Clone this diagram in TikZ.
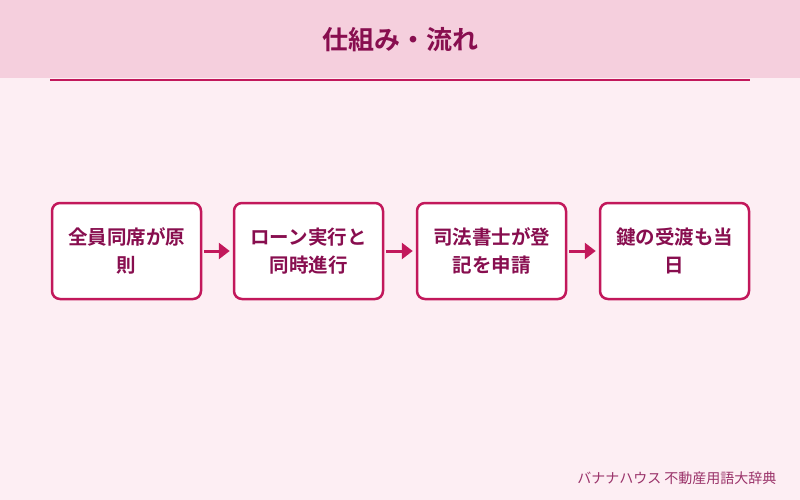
\documentclass[tikz,border=0pt]{standalone}
\usepackage{fontspec}
\setmainfont{Noto Sans CJK JP}[BoldFont={Noto Sans CJK JP Bold}]
\usetikzlibrary{arrows.meta}
\definecolor{bgc}{HTML}{FDEEF3}
\definecolor{hdr}{HTML}{F5CFDD}
\definecolor{acc}{HTML}{C2185B}
\definecolor{txt}{HTML}{880E4F}
\tikzset{
  stepbox/.style={draw=acc, line width=2.5pt, fill=white, rounded corners=8pt,
    minimum width=149pt, minimum height=96pt, inner sep=0pt,
    align=center, text=txt, font=\fontsize{19.5}{27.5}\selectfont\bfseries},
  flow/.style={draw=acc, line width=3pt, -{Triangle[length=11pt,width=16pt]}, shorten >=1pt}
}
\begin{document}
\begin{tikzpicture}[x=1pt,y=-1pt]
\useasboundingbox (0,0) rectangle (800,500);
\fill[bgc] (0,0) rectangle (800,500);
\fill[hdr] (0,0) rectangle (800,78);
\draw[acc, line width=2pt] (50,80) -- (750,80);
\node[text=txt, font=\fontsize{26}{30}\selectfont\bfseries] (title) at (400,40) {仕組み・流れ};
\node[stepbox] (s1) at (126.5,251) {全員同席が原\\則};
\node[stepbox] (s2) at (308.5,251) {ローン実行と\\同時進行};
\node[stepbox] (s3) at (491.5,251) {司法書士が登\\記を申請};
\node[stepbox] (s4) at (674.5,251) {鍵の受渡も当\\日};
\draw[flow] ([xshift=2pt]s1.east) -- ([xshift=-2pt]s2.west);
\draw[flow] ([xshift=2pt]s2.east) -- ([xshift=-2pt]s3.west);
\draw[flow] ([xshift=2pt]s3.east) -- ([xshift=-2pt]s4.west);
\node[anchor=east, text=txt!85, font=\fontsize{14}{16}\selectfont] (foot) at (780,478) {バナナハウス 不動産用語大辞典};
\end{tikzpicture}
\end{document}
